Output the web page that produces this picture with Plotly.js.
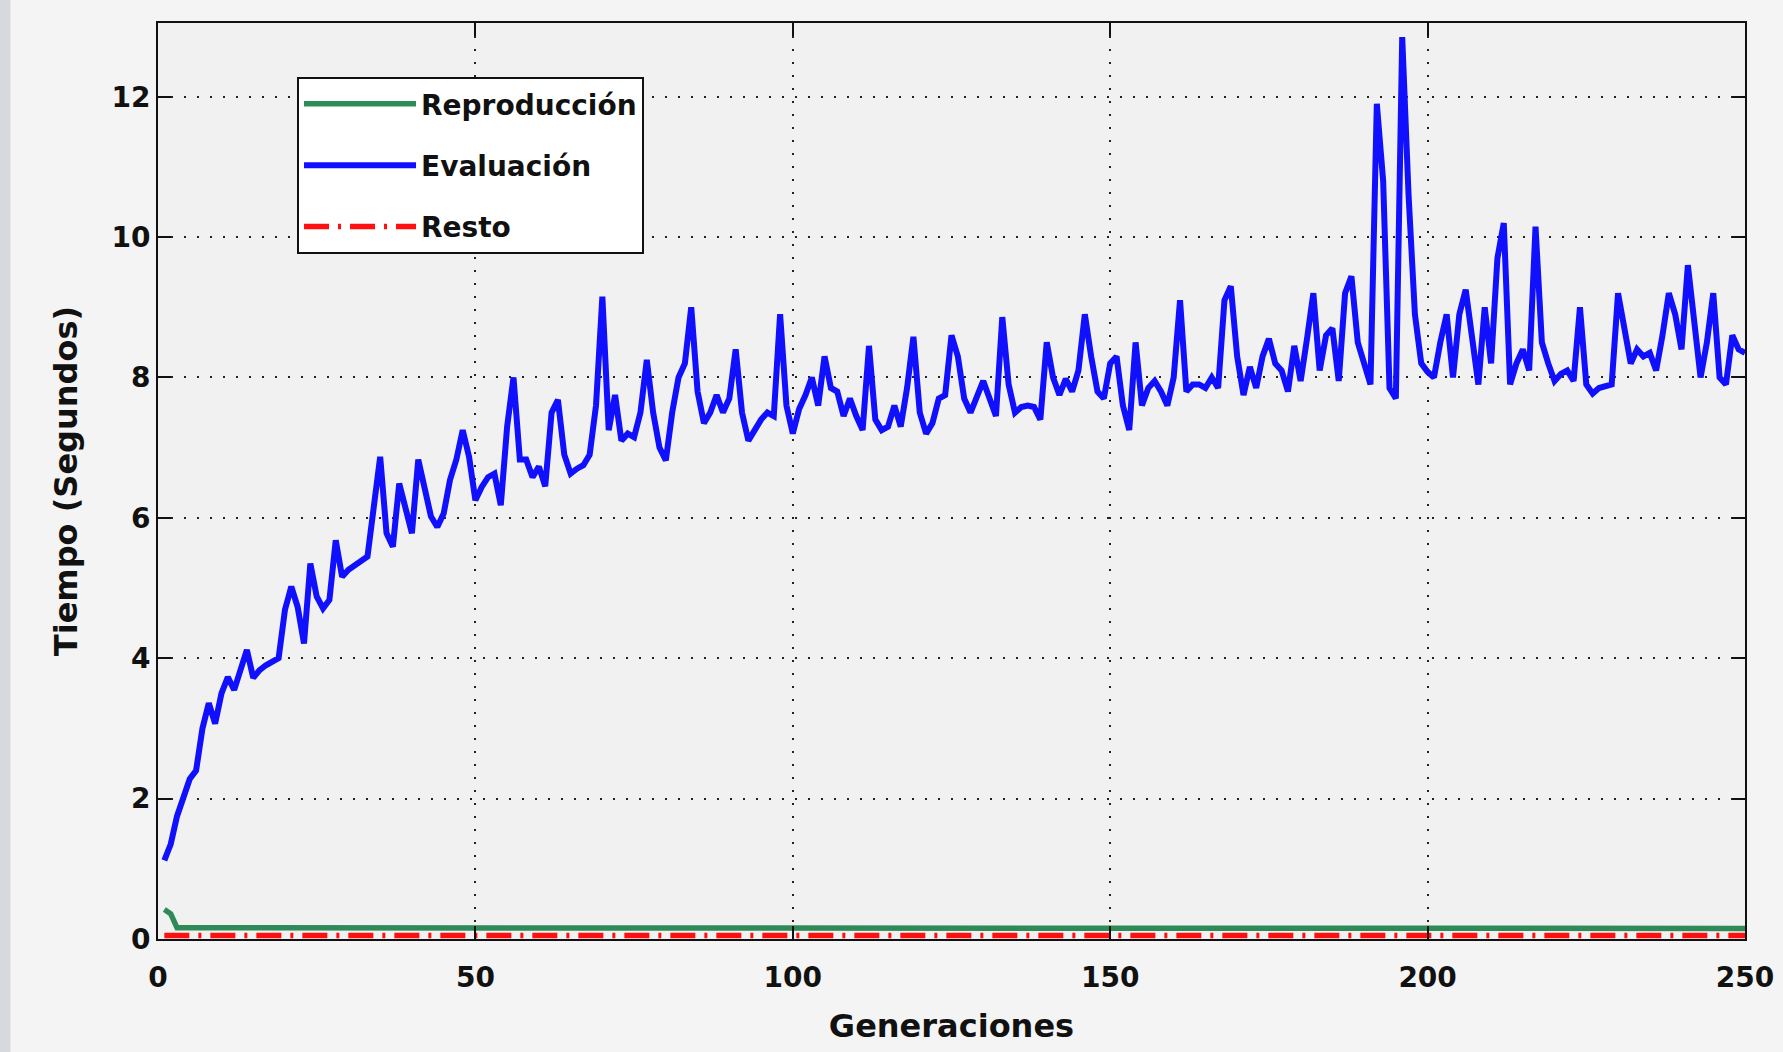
<!DOCTYPE html>
<html>
<head>
<meta charset="utf-8">
<script src="https://cdn.plot.ly/plotly-3.0.1.min.js"></script>
<style>
  html, body { margin: 0; padding: 0; background: #f4f4f4; }
  #chart { width: 1783px; height: 1052px; }
</style>
</head>
<body>
<div id="chart"></div>
<script>
// Generations (x axis)
const generaciones = [];
for (let g = 1; g <= 250; g++) generaciones.push(g);

// Evaluación (seconds), one value per generation
const evaluacion = [
  1.12, 1.35, 1.75, 2.0, 2.28, 2.4, 3.0, 3.36, 3.07, 3.5,
  3.73, 3.55, 3.83, 4.12, 3.72, 3.83, 3.9, 3.95, 4.0, 4.69,
  5.02, 4.73, 4.21, 5.35, 4.88, 4.71, 4.83, 5.68, 5.16, 5.26,
  5.33, 5.4, 5.45, 6.16, 6.87, 5.78, 5.59, 6.49, 6.16, 5.78,
  6.83, 6.44, 6.02, 5.87, 6.06, 6.54, 6.83, 7.25, 6.87, 6.25,
  6.44, 6.58, 6.63, 6.18, 7.3, 8.0, 6.83, 6.83, 6.58, 6.73,
  6.45, 7.5, 7.68, 6.9, 6.63, 6.7, 6.75, 6.9, 7.6, 9.15,
  7.25, 7.75, 7.1, 7.2, 7.15, 7.5, 8.25, 7.5, 7.0, 6.82,
  7.5, 8.0, 8.2, 9.0, 7.8, 7.35, 7.5, 7.75, 7.5, 7.7,
  8.4, 7.5, 7.1, 7.25, 7.4, 7.5, 7.45, 8.9, 7.6, 7.2,
  7.55, 7.75, 8.0, 7.6, 8.3, 7.85, 7.8, 7.45, 7.7, 7.45,
  7.25, 8.45, 7.4, 7.25, 7.3, 7.6, 7.3, 7.85, 8.58, 7.5,
  7.2, 7.35, 7.7, 7.75, 8.6, 8.3, 7.7, 7.5, 7.75, 7.95,
  7.7, 7.45, 8.86, 7.9, 7.5, 7.58, 7.6, 7.58, 7.4, 8.5,
  8.0, 7.75, 7.98, 7.8, 8.1, 8.9, 8.3, 7.8, 7.7, 8.2,
  8.3, 7.6, 7.25, 8.5, 7.6, 7.85, 7.95, 7.8, 7.6, 8.0,
  9.1, 7.8, 7.9, 7.9, 7.85, 8.0, 7.85, 9.1, 9.3, 8.3,
  7.75, 8.15, 7.85, 8.3, 8.55, 8.2, 8.1, 7.8, 8.45, 7.95,
  8.55, 9.2, 8.1, 8.6, 8.7, 7.95, 9.2, 9.44, 8.5, 8.2,
  7.9, 11.9, 10.8, 7.85, 7.7, 12.85, 10.6, 8.9, 8.2, 8.08,
  8.0, 8.5, 8.9, 8.0, 8.9, 9.25, 8.6, 7.9, 9.0, 8.2,
  9.7, 10.2, 7.9, 8.2, 8.4, 8.1, 10.15, 8.5, 8.2, 7.95,
  8.05, 8.1, 7.95, 9.0, 7.9, 7.77, 7.85, 7.88, 7.9, 9.2,
  8.7, 8.2, 8.4, 8.3, 8.35, 8.1, 8.6, 9.2, 8.9, 8.4,
  9.6, 8.8, 8.0, 8.5, 9.2, 8.0, 7.9, 8.6, 8.4, 8.35
];

// Reproducción (seconds): small start bump then flat
const reproGen = [1, 2, 3, 250];
const reproduccion = [0.42, 0.36, 0.16, 0.15];

// Resto (seconds): nearly zero, flat
const restoGen = [1, 250];
const resto = [0.05, 0.05];

const xTicks = [0, 50, 100, 150, 200, 250];
const yTicks = [0, 2, 4, 6, 8, 10, 12];

const seriesNames = ['Reproducción', 'Evaluación', 'Resto'];

const FONT = 'DejaVu Sans, Liberation Sans, sans-serif';

const traces = [
  {
    x: reproGen, y: reproduccion, name: seriesNames[0], type: 'scatter', mode: 'lines',
    line: { color: '#2e8b57', width: 5.5 }, legendgroup: 'a'
  },
  {
    x: generaciones, y: evaluacion, name: seriesNames[1], type: 'scatter', mode: 'lines',
    line: { color: '#1010ff', width: 6 }, legendgroup: 'b'
  },
  {
    x: restoGen, y: resto, name: seriesNames[2], type: 'scatter', mode: 'lines',
    line: { color: '#ff1010', width: 5.5, dash: '25px,9px,3px,9px' }, legendgroup: 'c'
  }
];

const axisCommon = {
  showline: true, linecolor: '#111', linewidth: 2, mirror: 'ticks',
  ticks: 'inside', ticklen: 13, tickwidth: 2, tickcolor: '#111',
  showgrid: true, gridcolor: '#222', gridwidth: 2, griddash: '2px,11px',
  zeroline: false,
  tickfont: { family: FONT, size: 28, color: '#111', weight: 'bold' }
};

const layout = {
  width: 1783, height: 1052,
  margin: { l: 158, r: 38, t: 23, b: 113 },
  paper_bgcolor: '#f4f4f4',
  plot_bgcolor: '#f1f1f1',
  showlegend: true,
  xaxis: Object.assign({}, axisCommon, {
    range: [0, 250], tickvals: xTicks, ticktext: xTicks.map(String),
    ticklabelstandoff: 12,
    title: { text: 'Generaciones', font: { family: FONT, size: 32, color: '#111', weight: 'bold' }, standoff: 22 }
  }),
  yaxis: Object.assign({}, axisCommon, {
    range: [0, 13.05], tickvals: yTicks, ticktext: yTicks.map(String),
    title: { text: 'Tiempo (Segundos)', font: { family: FONT, size: 32, color: '#111', weight: 'bold' }, standoff: 24 }
  }),
  legend: {
    x: 0.0876, y: 0.941, xanchor: 'left', yanchor: 'top',
    bgcolor: '#ffffff', bordercolor: '#111', borderwidth: 2,
    font: { family: FONT, size: 28, color: '#111', weight: 'bold' },
    itemwidth: 112, tracegroupgap: 22, traceorder: 'grouped'
  },
  shapes: [
    { type: 'rect', xref: 'paper', yref: 'paper', layer: 'below',
      x0: -0.0996, x1: -0.0930, y0: -0.1234, y1: 1.0251,
      fillcolor: '#d6d9dd', line: { width: 0 } }
  ]
};

Plotly.newPlot('chart', traces, layout, { displayModeBar: false, staticPlot: true });
</script>
</body>
</html>
